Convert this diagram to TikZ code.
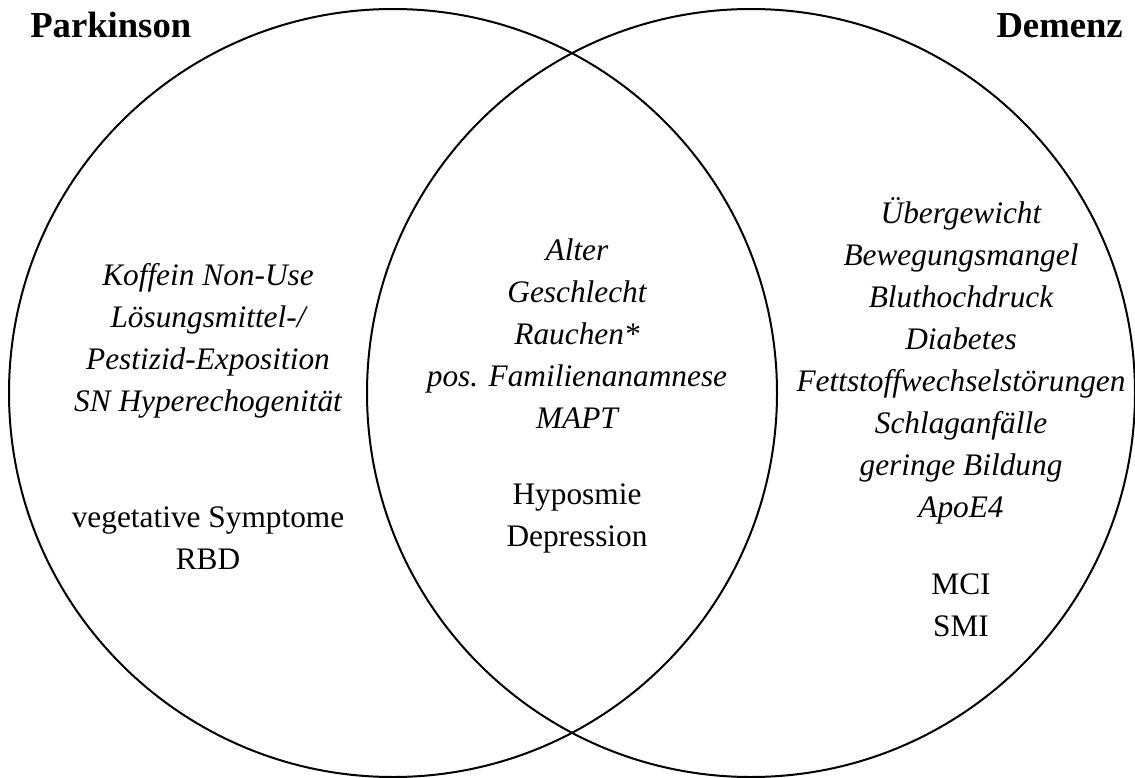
\documentclass[tikz,border=0pt]{standalone}
\usepackage{fontspec}
\setmainfont{Liberation Serif}
\begin{document}
\begin{tikzpicture}[x=0.75pt,y=-0.75pt,
  ring/.style={draw=black,line width=1.5pt},
  title/.style={font=\fontsize{27.5}{32}\selectfont\bfseries,inner sep=0pt},
  risk/.style={font=\fontsize{23.5}{31.5}\selectfont\itshape,inner sep=0pt,anchor=base},
  sym/.style={font=\fontsize{23.5}{31.5}\selectfont,inner sep=0pt,anchor=base}]
\useasboundingbox (0,0) rectangle (1135,778);
\fill[white] (0,0) rectangle (1135,778);
\draw[ring] (393,393) circle[radius=384];
\draw[ring] (751,393) circle[radius=384];
\node[title,anchor=base west] (tp) at (30,37) {Parkinson};
\node[title,anchor=base east] (td) at (1123,37) {Demenz};
% left
\node[risk] (l1) at (208,285) {Koffein Non-Use};
\node[risk] (l2) at (208,327) {Lösungsmittel-/};
\node[risk] (l3) at (208,369) {Pestizid-Exposition};
\node[risk] (l4) at (208,411) {SN Hyperechogenität};
\node[sym] (l5) at (208,527) {vegetative Symptome};
\node[sym] (l6) at (208,569) {RBD};
% center
\node[risk] (c1) at (577,260) {Alter};
\node[risk] (c2) at (577,302) {Geschlecht};
\node[risk] (c3) at (577,344) {Rauchen*};
\node[risk] (c4) at (577,386) {pos. Familienanamnese};
\node[risk] (c5) at (577,428) {MAPT};
\node[sym] (c6) at (577,504) {Hyposmie};
\node[sym] (c7) at (577,546) {Depression};
% right
\node[risk] (r1) at (961,223) {Übergewicht};
\node[risk] (r2) at (961,265) {Bewegungsmangel};
\node[risk] (r3) at (961,307) {Bluthochdruck};
\node[risk] (r4) at (961,349) {Diabetes};
\node[risk] (r5) at (961,391) {Fettstoffwechselstörungen};
\node[risk] (r6) at (961,433) {Schlaganfälle};
\node[risk] (r7) at (961,475) {geringe Bildung};
\node[risk] (r8) at (961,517) {ApoE4};
\node[sym] (r9) at (961,594) {MCI};
\node[sym] (r10) at (961,636) {SMI};
\end{tikzpicture}
\end{document}
